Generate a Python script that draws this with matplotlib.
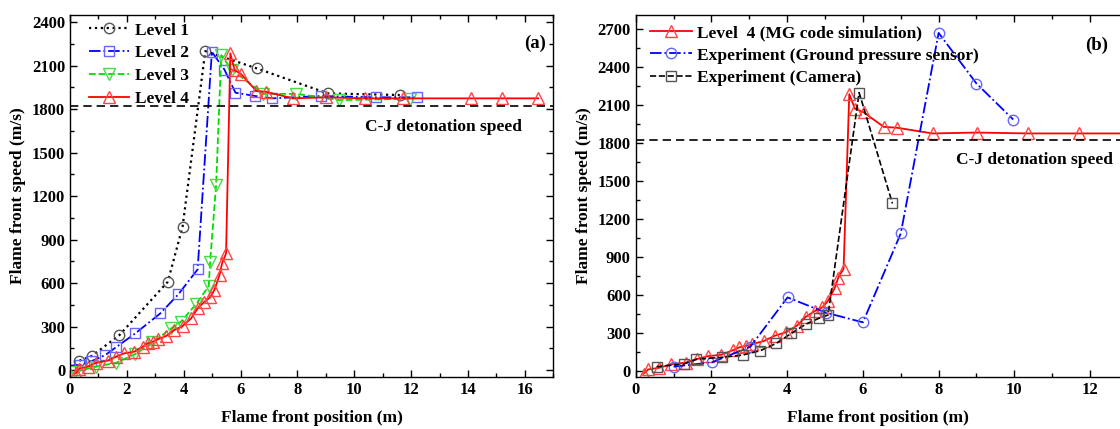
import matplotlib.pyplot as plt
from matplotlib.ticker import MultipleLocator

plt.rcParams['font.family'] = ['Liberation Serif', 'DejaVu Serif']
plt.rcParams['font.weight'] = 'bold'

# Panel (a) data: flame front position (m) and speed (m/s)
lvl1_x = [0.33, 0.77, 1.74, 3.44, 3.96, 4.76, 6.58, 9.07, 11.6]
lvl1_y = [64, 97, 241, 609, 988, 2200, 2080, 1908, 1897]

lvl2_x = [0.0, 0.35, 0.75, 1.24, 1.62, 2.3, 3.18, 3.81, 4.49, 4.99, 5.43, 5.82, 6.52, 7.11, 8.84, 10.75, 12.2]
lvl2_y = [30, 35, 60, 103, 157, 253, 391, 522, 694, 2195, 2073, 1913, 1890, 1874, 1890, 1881, 1881]

lvl3_x = [0.19, 0.92, 1.62, 2.3, 2.9, 3.56, 3.9, 4.44, 4.88, 4.93, 5.14, 5.32, 5.7, 6.8, 7.95, 9.48, 11.95]
lvl3_y = [-12, 23, 50, 110, 190, 287, 333, 455, 579, 747, 1276, 2172, 2070, 1905, 1905, 1862, 1871]

lvl4_x = [0.21, 0.33, 0.62, 0.92, 1.32, 1.62, 1.91, 2.26, 2.56, 2.73, 2.91, 3.08, 3.38, 3.67,
          3.96, 4.26, 4.49, 4.73, 4.93, 5.08, 5.26, 5.35, 5.49, 5.64, 5.79, 6.02, 6.55, 6.9,
          7.84, 9.01, 10.36, 11.71, 14.12, 15.2, 16.47]
lvl4_y = [-23, 10, 23, 50, 64, 92, 115, 126, 161, 184, 195, 211, 234, 276,
          303, 356, 425, 471, 501, 552, 655, 736, 805, 2184, 2069, 2041, 1926, 1919,
          1874, 1881, 1874, 1874, 1874, 1874, 1874]

# Panel (b) experiments
sensor_x = [1.0, 2.01, 3.03, 4.01, 5.03, 6.0, 7.0, 8.0, 9.0, 9.97]
sensor_y = [32, 66, 190, 579, 458, 382, 1084, 2668, 2268, 1984]

camera_x = [0.55, 1.27, 1.6, 2.28, 2.83, 3.29, 3.71, 4.11, 4.5, 4.83, 5.08, 5.9, 6.78]
camera_y = [32, 53, 90, 106, 124, 158, 216, 295, 369, 413, 440, 2197, 1321]

cj_speed = 1820

fig = plt.figure(figsize=(11.2, 4.29), dpi=100)
ax1 = fig.add_axes([0.0625, 0.122, 0.4315, 0.842])
ax2 = fig.add_axes([0.5676, 0.122, 0.4324, 0.842])

ms_c = 7.5
ms_t = 9

ax1.plot(lvl1_x, lvl1_y, ':', color='black', lw=1.6, marker='o', ms=ms_c, mfc='none',
         mec='#555555', mew=1.0, label='Level 1')
ax1.plot(lvl2_x, lvl2_y, '-.', color='#0000ff', lw=1.3, marker='s', ms=ms_c, mfc='none',
         mec='#6666ff', mew=1.0, label='Level 2', markevery=list(range(1, len(lvl2_x))))
ax1.plot(lvl3_x, lvl3_y, '--', color='#00dd00', lw=1.3, marker='v', ms=ms_t, mfc='none',
         mec='#44dd44', mew=1.0, label='Level 3')
ax1.plot(lvl4_x, lvl4_y, '-', color='#ff0000', lw=1.3, marker='^', ms=ms_t, mfc='none',
         mec='#ff4444', mew=1.0, label='Level 4')
ax1.axhline(cj_speed, color='black', ls=(0, (5, 3)), lw=1.2)

ax2.plot(lvl4_x, lvl4_y, '-', color='#ff0000', lw=1.3, marker='^', ms=ms_t, mfc='none',
         mec='#ff4444', mew=1.0, label='Level  4 (MG code simulation)')
ax2.plot(sensor_x, sensor_y, '-.', color='#0000ff', lw=1.3, marker='o', ms=ms_c, mfc='none',
         mec='#6666ff', mew=1.0, label='Experiment (Ground pressure sensor)')
ax2.plot(camera_x, camera_y, '--', color='black', lw=1.2, marker='s', ms=ms_c, mfc='none',
         mec='#555555', mew=1.0, label='Experiment (Camera)')
ax2.axhline(cj_speed, color='black', ls=(0, (5, 3)), lw=1.2)

ax1.set_xlim(0, 17)
ax1.set_ylim(-46, 2446)
ax2.set_xlim(0, 12.79)
ax2.set_ylim(-47, 2806)

for ax in (ax1, ax2):
    ax.xaxis.set_major_locator(MultipleLocator(2))
    ax.xaxis.set_minor_locator(MultipleLocator(1))
    ax.yaxis.set_major_locator(MultipleLocator(300))
    ax.yaxis.set_minor_locator(MultipleLocator(150))
    ax.tick_params(which='both', direction='in', top=True, right=True, labelsize=12, width=1.0)
    ax.tick_params(which='major', length=5)
    ax.tick_params(which='minor', length=3)
    for lab in ax.get_xticklabels() + ax.get_yticklabels():
        lab.set_fontweight('bold')
    for sp in ax.spines.values():
        sp.set_linewidth(1.0)
    ax.set_xlabel('Flame front position (m)', fontsize=12.5, fontweight='bold', labelpad=9)
    ax.set_ylabel('Flame front speed (m/s)', fontsize=12.5, fontweight='bold', labelpad=4)

ax2.spines['right'].set_visible(False)
ax2.tick_params(which='both', right=False)

leg1 = ax1.legend(loc='upper left', frameon=False, fontsize=12.5, handlelength=2.3,
                  borderaxespad=0.0, labelspacing=0.38, handletextpad=0.35,
                  bbox_to_anchor=(0.025, 1.0))
leg2 = ax2.legend(loc='upper left', frameon=False, fontsize=12.5, handlelength=2.4,
                  borderaxespad=0.15, labelspacing=0.36, handletextpad=0.3,
                  bbox_to_anchor=(0.01, 1.0))
for t in leg1.get_texts() + leg2.get_texts():
    t.set_fontweight('bold')

ax1.text(0.985, 0.923, '(a)', transform=ax1.transAxes, ha='right', va='center',
         fontsize=13.5, fontweight='bold')
ax1.text(0.935, 0.691, 'C-J detonation speed', transform=ax1.transAxes, ha='right', va='center',
         fontsize=12.5, fontweight='bold')
ax2.text(0.975, 0.918, '(b)', transform=ax2.transAxes, ha='right', va='center',
         fontsize=13.5, fontweight='bold')
ax2.text(0.985, 0.60, 'C-J detonation speed', transform=ax2.transAxes, ha='right', va='center',
         fontsize=12.5, fontweight='bold')

plt.savefig('out.png', dpi=100)
